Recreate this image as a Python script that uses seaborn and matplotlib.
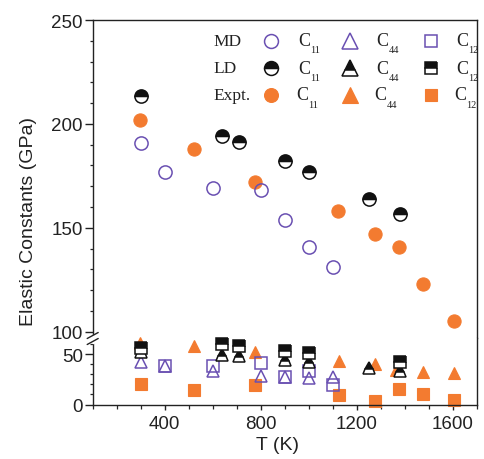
import numpy as np
import pandas as pd
import matplotlib
matplotlib.use("Agg")
import matplotlib.pyplot as plt
import seaborn as sns
from matplotlib.lines import Line2D
from matplotlib.ticker import MultipleLocator, FixedLocator

# ---------------- data ----------------
md_c11_T = [300, 400, 600, 800, 900, 1000, 1100]
md_c11 = [191, 177, 169, 168, 154, 141, 131]
md_c44_T = [300, 400, 600, 800, 900, 1000, 1100]
md_c44 = [42, 38, 33, 28, 27, 26, 27]
md_c12_T = [400, 600, 800, 900, 1000, 1100]
md_c12 = [38, 38, 41, 27, 33, 19]

ld_c11_T = [300, 640, 710, 900, 1000, 1250, 1380]
ld_c11 = [213.5, 194, 191.5, 182, 177, 164, 156.5]
ld_c44_T = [300, 640, 710, 900, 1000, 1250, 1380]
ld_c44 = [52, 49, 48, 44, 42, 36, 33.5]
ld_c12_T = [300, 640, 710, 900, 1000, 1380]
ld_c12 = [56, 60, 58, 53, 51, 42]

ex_c11_T = [295, 520, 775, 1120, 1275, 1375, 1475, 1605]
ex_c11 = [202, 188, 172, 158, 147, 141, 123, 105]
ex_c44_T = [295, 520, 775, 1125, 1275, 1365, 1475, 1605]
ex_c44 = [61, 58, 52, 43, 40, 34, 32, 31]
ex_c12_T = [300, 520, 775, 1125, 1275, 1375, 1475, 1605]
ex_c12 = [20, 14, 19, 9, 3, 15, 10, 4]

x_ticks = [400, 800, 1200, 1600]
y_ticks_top = [100, 150, 200, 250]
y_ticks_bot = [0, 50]

# ---------------- styling ----------------
sns.set_style("ticks")
plt.rcParams["font.family"] = ["Liberation Sans", "DejaVu Sans"]

PURPLE = "#6A50B2"
ORANGE = "#F37B30"
BLACK = "#111111"

W, H = 484, 460
fig = plt.figure(figsize=(W / 100, H / 100), dpi=100)


def fx(px):
    return px / W


def fy(py):
    return 1 - py / H


L, R = 92.7, 476.7
Y_TOP, Y_BRK, Y_BOT = 21, 339, 405.5
ax_top = fig.add_axes([fx(L), fy(Y_BRK), fx(R) - fx(L), fy(Y_TOP) - fy(Y_BRK)])
ax_bot = fig.add_axes([fx(L), fy(Y_BOT), fx(R) - fx(L), fy(Y_BRK) - fy(Y_BOT)])

styles = {
    "MD": dict(color=PURPLE, markerfacecolor="none", markeredgecolor=PURPLE,
               markeredgewidth=1.1),
    "LD": dict(color=BLACK, markerfacecolor=BLACK, markerfacecoloralt="white",
               fillstyle="top", markeredgecolor=BLACK, markeredgewidth=1.1),
    "Expt": dict(color=ORANGE, markerfacecolor=ORANGE, markeredgecolor=ORANGE,
                 markeredgewidth=0.8),
}
msize = {"o": 9.5, "^": 9.2, "s": 8}
legsize = {"o": 10, "^": 11, "s": 8.8}


def draw(ax, T, v, group, marker, clip=True):
    df = pd.DataFrame({"T": T, "v": v})
    sns.lineplot(data=df, x="T", y="v", ax=ax, linestyle="", marker=marker,
                 markersize=msize[marker], legend=False, estimator=None,
                 clip_on=clip, **styles[group])


draw(ax_top, ex_c11_T, ex_c11, "Expt", "o")
draw(ax_top, md_c11_T, md_c11, "MD", "o")
draw(ax_top, ld_c11_T, ld_c11, "LD", "o")
draw(ax_bot, ex_c11_T, ex_c11, "Expt", "o")
draw(ax_bot, ex_c44_T, ex_c44, "Expt", "^", clip=False)
draw(ax_bot, ex_c12_T, ex_c12, "Expt", "s", clip=False)
draw(ax_bot, md_c44_T, md_c44, "MD", "^", clip=False)
draw(ax_bot, md_c12_T, md_c12, "MD", "s", clip=False)
draw(ax_bot, ld_c44_T, ld_c44, "LD", "^", clip=False)
draw(ax_bot, ld_c12_T, ld_c12, "LD", "s", clip=False)

for ax in (ax_top, ax_bot):
    ax.set_xlim(100, 1700)
    ax.set_xlabel("")
    ax.set_ylabel("")
    for s in ax.spines.values():
        s.set_linewidth(1.0)
        s.set_color("#222222")

ax_top.set_ylim(97, 250)
ax_bot.set_ylim(0, 66)

ax_top.spines["bottom"].set_visible(False)
ax_bot.spines["top"].set_visible(False)
ax_top.tick_params(axis="x", which="both", bottom=False, labelbottom=False)

ax_top.yaxis.set_major_locator(FixedLocator(y_ticks_top))
ax_top.yaxis.set_minor_locator(MultipleLocator(10))
ax_bot.yaxis.set_major_locator(FixedLocator(y_ticks_bot))
ax_bot.yaxis.set_minor_locator(MultipleLocator(10))
ax_bot.xaxis.set_major_locator(FixedLocator(x_ticks))
ax_bot.xaxis.set_minor_locator(MultipleLocator(100))

for ax in (ax_top, ax_bot):
    ax.tick_params(axis="y", which="major", length=5.5, width=1.0,
                   direction="out", labelsize=13.5, pad=1.5, colors="#222222")
    ax.tick_params(axis="y", which="minor", length=2.5, width=0.9,
                   direction="out")
    ax.tick_params(right=False, top=False, which="both")
ax_bot.tick_params(axis="x", which="major", length=3.8, width=1.0,
                   direction="out", labelsize=13.5, pad=4, colors="#222222")
ax_bot.tick_params(axis="x", which="minor", length=2.6, width=0.9,
                   direction="out")

# axis titles
fig.text(fx(278), fy(446), "T (K)", ha="center", va="center", fontsize=14,
         color="#222222")
fig.text(fx(29), fy(222), "Elastic Constants (GPa)", ha="center",
         va="center", rotation=90, fontsize=14, color="#222222")

# break marks on the left spine
fig.add_artist(Line2D([fx(L), fx(L)], [fy(336.5), fy(343)], color="white",
                      lw=2.5, transform=fig.transFigure))
for off in (0, 6):
    fig.add_artist(Line2D([fx(L - 5.5), fx(L + 5.5)],
                          [fy(339.5 + off), fy(333.5 + off)],
                          color="#222222", lw=1.0,
                          transform=fig.transFigure))

# ---------------- custom legend table ----------------
serif = ["Liberation Serif", "DejaVu Serif"]
rows = [("MD", 41.7), ("LD", 69.3), ("Expt.", 96)]
groups = ["MD", "LD", "Expt"]
cols = [("o", 270.5, 298, "11"), ("^", 350, 376, "44"), ("s", 431, 456, "12")]
for (rlabel, ry), g in zip(rows, groups):
    fig.text(fx(213), fy(ry), rlabel, ha="left", va="center",
             fontsize=12.5, family=serif, color="#222222")
    for m, mx, tx, sub in cols:
        st = dict(styles[g])
        st.pop("color")
        fig.add_artist(Line2D([fx(mx)], [fy(ry)], marker=m, linestyle="",
                              markersize=legsize[m], color=styles[g]["color"],
                              transform=fig.transFigure, **st))
        dx = -2 if g == "Expt" else 0
        fig.text(fx(tx + dx), fy(ry), "C", ha="left", va="center",
                 fontsize=13, family=serif, color="#222222")
        fig.text(fx(tx + dx + 12.5), fy(ry + 9), sub, ha="left",
                 va="center", fontsize=7.5, family=serif, color="#222222")

fig.savefig("out.png", dpi=100)
